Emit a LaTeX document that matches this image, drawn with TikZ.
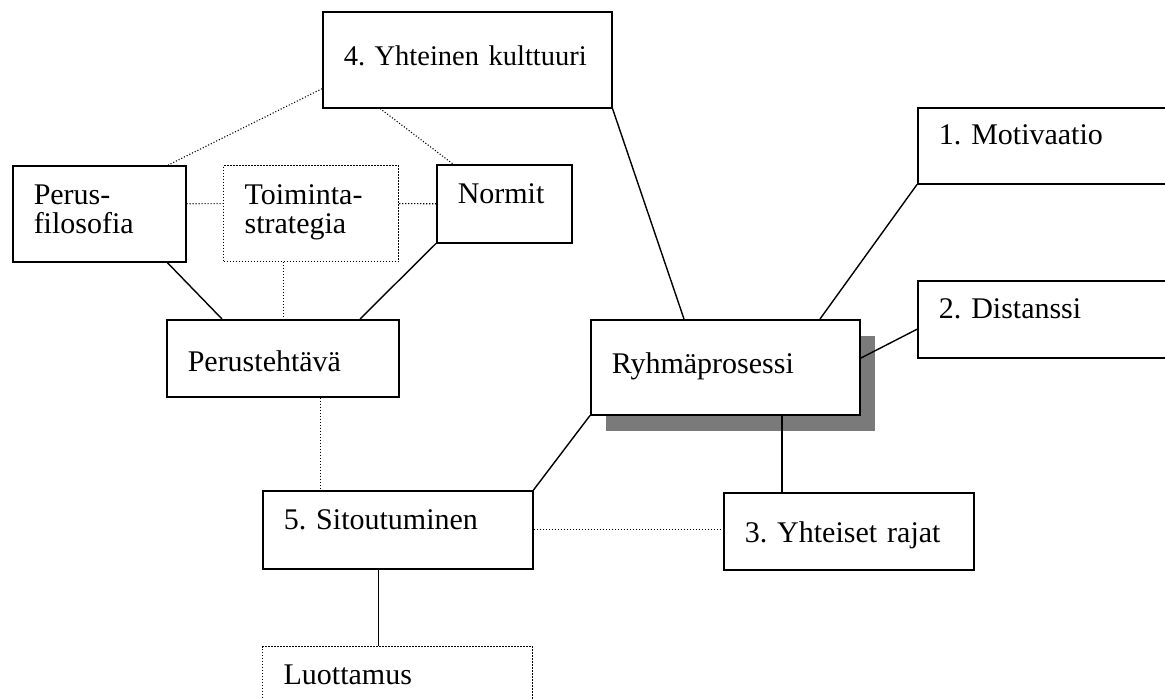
\documentclass[tikz,border=0pt]{standalone}
\usepackage{fontspec}
\setmainfont{Liberation Serif}
\usepackage{tikz}
\usetikzlibrary{shadows}
\frenchspacing

\begin{document}
\begin{tikzpicture}[x=1pt, y=-1pt,
  box/.style={draw, line width=1.5pt, fill=white, anchor=north west, inner xsep=21pt, inner ysep=0pt, align=left, font=\fontsize{30}{29}\selectfont},
  dotbox/.style={box, line width=1.2pt, dash pattern=on 1.2pt off 1.8pt},
  link/.style={line width=1.4pt},
  dotlink/.style={line width=1.1pt, dash pattern=on 1.1pt off 1.9pt}]
\path[use as bounding box, clip] (0,0) rectangle (1165,699);
\fill[white] (0,0) rectangle (1165,699);
%%%%% Boxes %%%%%
\node[box, font=\fontsize{28.5}{29}\selectfont, text width=247pt, text height=54pt, text depth=42pt] (kult) at (322,11) {4.~Yhteinen~kulttuuri};
\node[box, text width=131pt, text height=39pt, text depth=57pt] (filo) at (12,165) {Perus-\\filosofia};
\node[dotbox, text width=133pt, text height=39pt, text depth=57pt] (strat) at (223,165) {Toiminta-\\strategia};
\node[box, text width=93pt, text height=39pt, text depth=39pt] (normit) at (436,164) {Normit};
\node[box, text width=190pt, text height=52pt, text depth=25pt] (teht) at (166,319) {Perustehtävä};
\node[box, text width=227pt, text height=54pt, text depth=41pt,
  drop shadow={shadow xshift=15pt, shadow yshift=-16pt, fill=black!52, opacity=1}] (ryhma) at (590,319) {Ryhmäprosessi};
\node[box, text width=230pt, text height=37pt, text depth=39pt] (motiv) at (917,107) {1. Motivaatio};
\node[box, text width=230pt, text height=38pt, text depth=39pt] (dist) at (917,280) {2. Distanssi};
\node[box, text width=208pt, text height=50pt, text depth=27pt] (rajat) at (723,492) {3. Yhteiset rajat};
\node[box, text width=228pt, text height=39pt, text depth=39pt] (sitout) at (262,490) {5. Sitoutuminen};
\node[dotbox, text width=228pt, text height=38pt, text depth=50pt] (luott) at (262,646) {Luottamus};
%%%%% Links %%%%%
\draw[dotlink] ([yshift=-29pt]kult.west) -- ([xshift=69pt]filo.north);
\draw[dotlink] ([xshift=58pt]kult.south west) -- ([xshift=17pt]normit.north west);
\draw[link] (kult.south east) -- ([xshift=94pt]ryhma.north west);
\draw[dotlink] ([yshift=10pt]filo.east) -- ([yshift=10pt]strat.west);
\draw[dotlink] ([yshift=10pt]strat.east) -- (normit.west);
\draw[dotlink] ([xshift=-28pt]strat.south) -- ([xshift=-28pt]strat.south |- teht.north);
\draw[link] ([xshift=68pt]filo.south) -- ([xshift=56pt]teht.north west);
\draw[link] (normit.south west) -- ([xshift=194pt]teht.north west);
\draw[dotlink] ([xshift=38pt]teht.south) -- ([xshift=38pt]teht.south |- sitout.north);
\draw[link] (ryhma.south west) -- (sitout.north east);
\draw[link] ([xshift=230pt]ryhma.north west) -- (motiv.south west);
\draw[link] ([yshift=9pt]ryhma.east) -- ([yshift=-10pt]dist.west);
\draw[link] ([xshift=192pt]ryhma.south west) -- ([xshift=192pt]ryhma.south west |- rajat.north);
\draw[dotlink] (sitout.east) -- (sitout.east -| rajat.west);
\draw[link] ([xshift=-19pt]sitout.south) -- ([xshift=-19pt]sitout.south |- luott.north);
\end{tikzpicture}
\end{document}
